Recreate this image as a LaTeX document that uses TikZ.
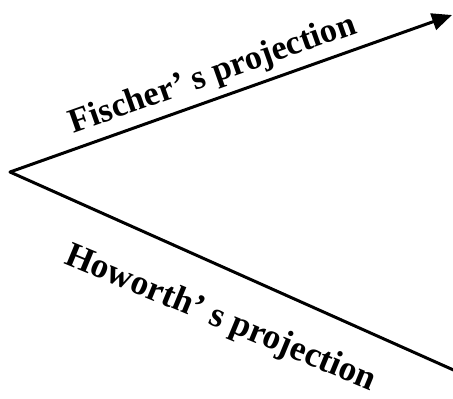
\documentclass[tikz,border=0pt]{standalone}
\usepackage{fontspec}
\setmainfont{Liberation Serif}
\usetikzlibrary{arrows.meta}
\begin{document}
\begin{tikzpicture}[x=1bp,y=-1bp,
  branch/.style={line width=3bp, line cap=round},
  lbl/.style={font=\fontsize{34.5}{38}\selectfont\bfseries, inner sep=0pt, anchor=base}]
\useasboundingbox (0,0) rectangle (453,398);
\coordinate (v) at (10,172);
\coordinate (f) at (452,15);
\coordinate (h) at (458,372);
\draw[branch, -{Triangle[length=20bp,width=17bp]}] (v) -- (f);
\draw[branch] (v) -- (h);
\node[lbl, rotate=19.5] (fl) at (216,83) {Fischer’ s projection};
\node[lbl, rotate=-22.5] (hl) at (217,327) {\fontsize{35.5}{38}\selectfont Howorth’ s projection};
\end{tikzpicture}
\end{document}
